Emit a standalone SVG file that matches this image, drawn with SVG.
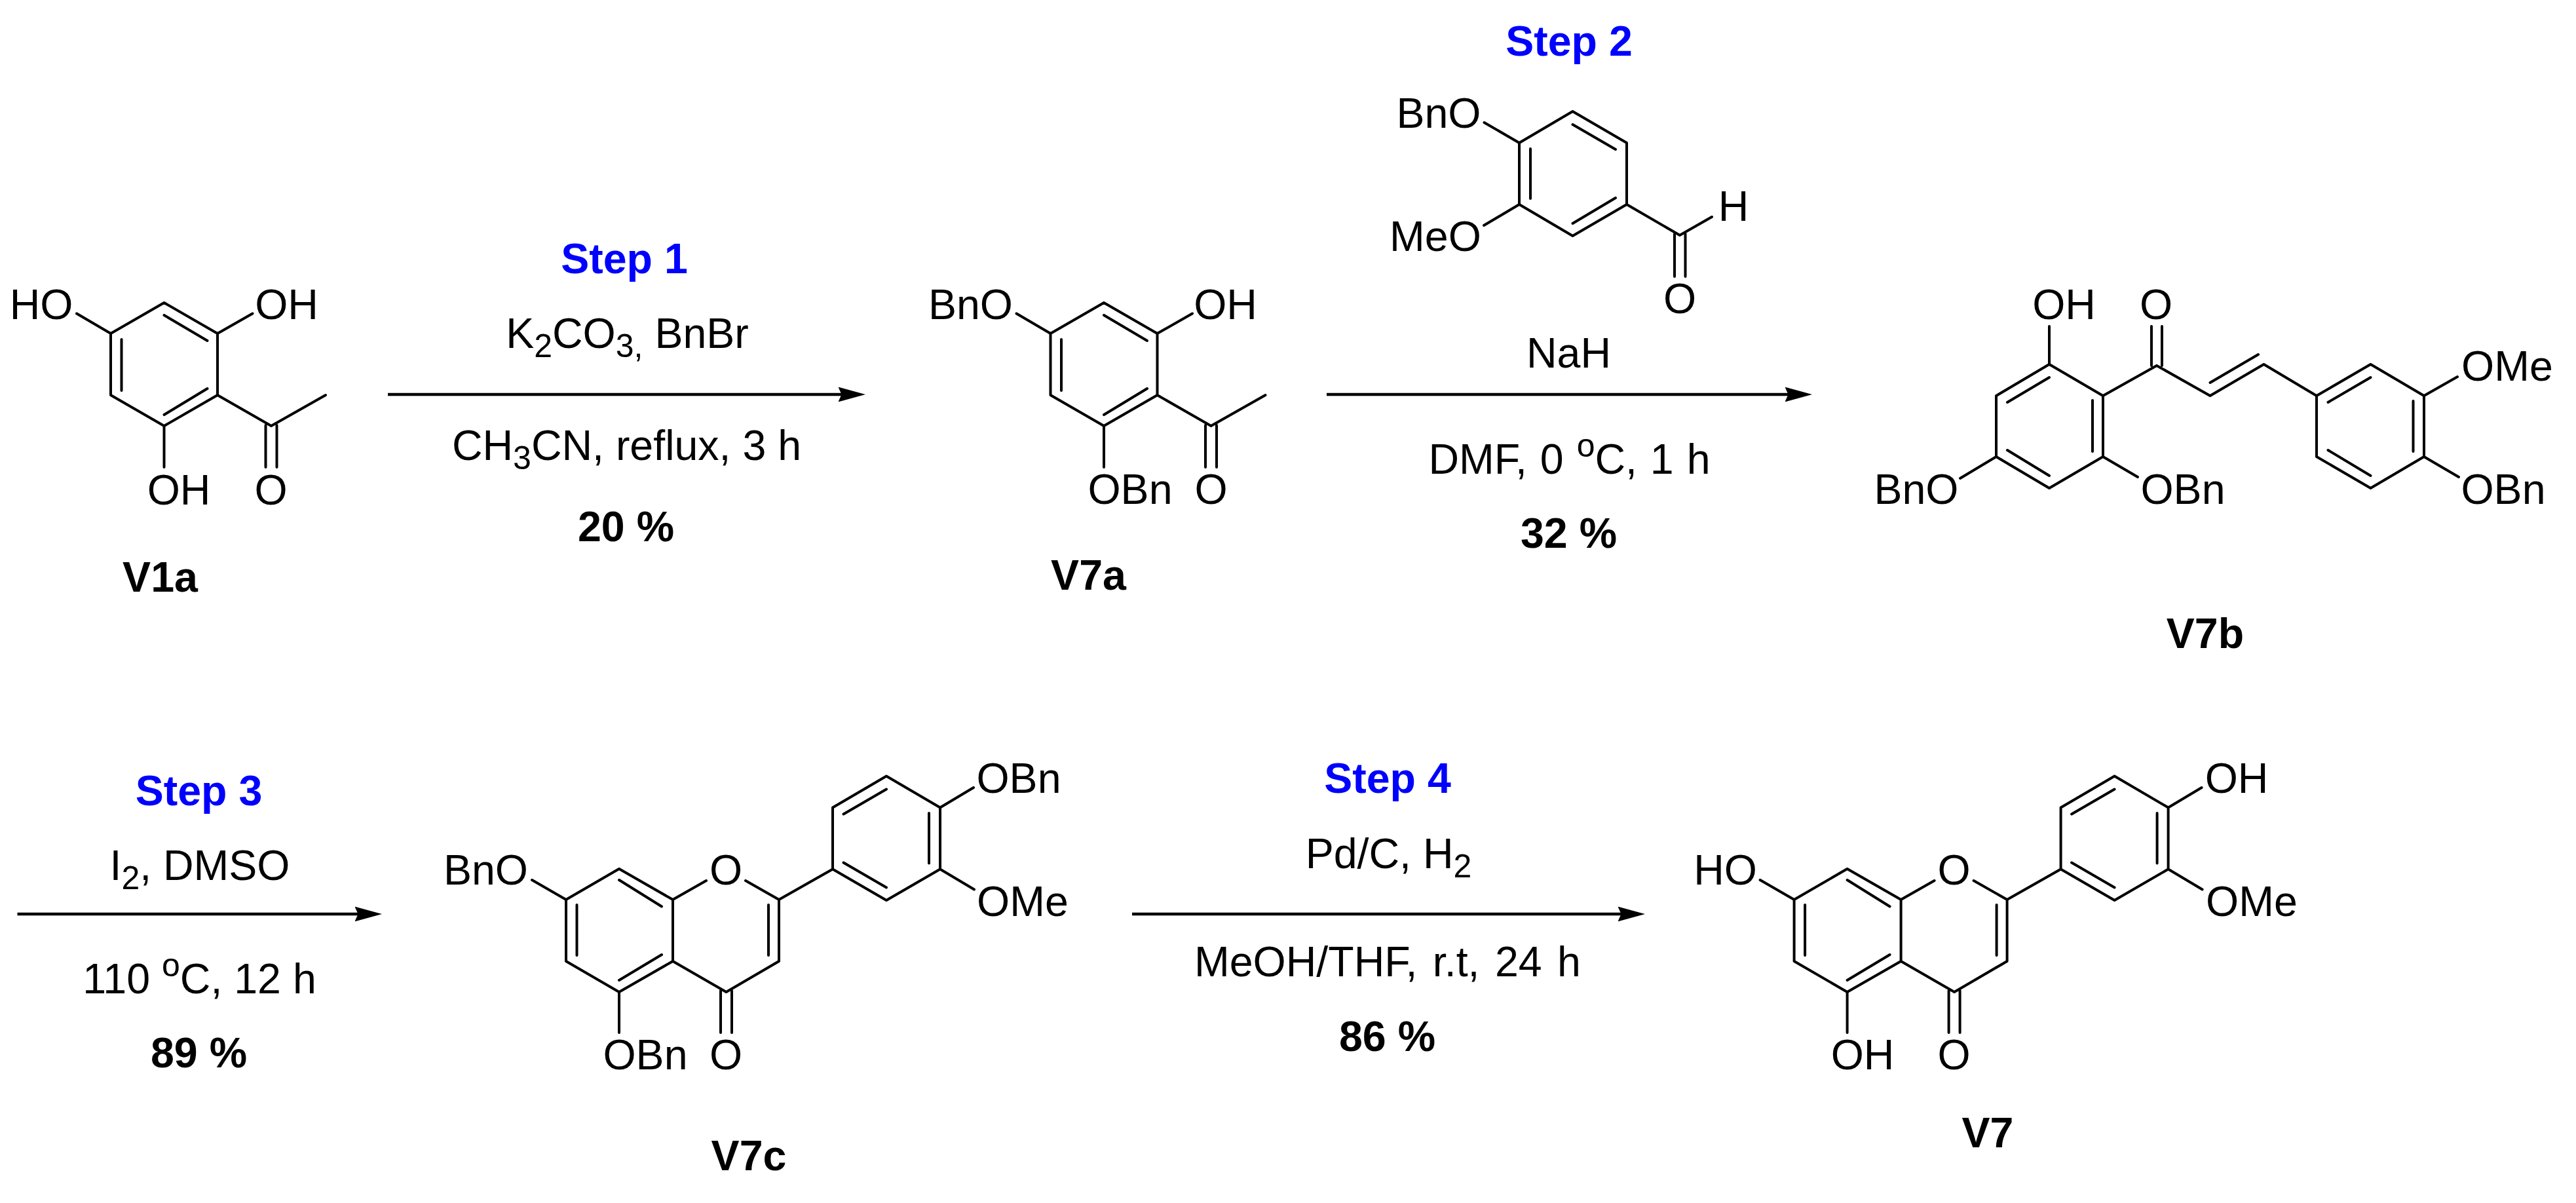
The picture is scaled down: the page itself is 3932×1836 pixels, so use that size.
<svg xmlns="http://www.w3.org/2000/svg" width="3932" height="1836" viewBox="0 0 3932 1836">
<style>
text{font-family:"Liberation Sans",Arial,sans-serif;font-size:64.5px;fill:#000;text-anchor:middle}
.b{font-weight:bold}
.step{font-weight:bold;fill:#0000ff}
.bond{fill:none;stroke:#000;stroke-width:4;stroke-linecap:round;stroke-linejoin:round}
.arrow{fill:none;stroke:#000;stroke-width:4.5;marker-end:url(#head)}
.s{font-size:50px}
</style>
<defs>
<marker id="head" markerUnits="userSpaceOnUse" markerWidth="44" markerHeight="26" refX="11.5" refY="13" orient="auto">
<path d="M41.5 13L0 1.5L5 13L0 24.5Z" fill="#000"/>
</marker>
<path id="acetophenone" class="bond" d="M250.5 462L332 509L332 603L250.5 650L169 603L169 509Z M185.5 518V596 M250.5 481L316.5 520 M316.5 593L250.5 633 M169 509L117 478.5 M332 509L385.5 478.5 M250.5 650V713 M332 603L414 650L497 603 M405.5 649V713 M422.5 649V713"/>
<path id="flavone" class="bond" d="M945 1326L1027 1373L1027 1467L945 1514L864 1467L864 1373Z M880.5 1381V1458 M945 1343L1010 1383.5 M1010 1457L945 1496 M1027 1373L1078 1344 M1138 1344L1189 1373L1189 1467L1108.5 1514L1027 1467 M1173 1381V1458 M945 1514V1576 M1100 1512V1576 M1117 1512V1576 M864 1373L812 1343 M1189 1373L1271 1326.5L1271 1232.5L1353 1184.5L1435 1232.5L1435 1326.5L1353 1374L1271 1326.5 M1287.5 1242.5L1353 1204.5 M1418 1241V1317.5 M1287.5 1316.5L1353 1354.5 M1435 1232.5L1486 1202 M1435 1326.5L1487 1357.5"/>
</defs>
<rect width="3932" height="1836" fill="#fff"/>
<g id="connectors">
<line class="arrow" x1="592" y1="602" x2="1291" y2="602"/>
<line class="arrow" x1="2025" y1="602" x2="2736" y2="602"/>
<line class="arrow" x1="26.5" y1="1395" x2="553" y2="1395"/>
<line class="arrow" x1="1728" y1="1395" x2="2481" y2="1395"/>
</g>
<g id="V1a">
<use href="#acetophenone"/>
<text x="63" y="486.5">HO</text>
<text x="437.5" y="486.5">OH</text>
<text x="273" y="769.5">OH</text>
<text x="413.5" y="769.5">O</text>
<text class="b" x="244.5" y="903">V1a</text>
</g>
<g id="step1">
<text class="step" x="953" y="416.5">Step 1</text>
<text x="957.5" y="531">K<tspan class="s" dy="14">2</tspan><tspan dy="-14">CO</tspan><tspan class="s" dy="14">3,</tspan><tspan dy="-14"> BnBr</tspan></text>
<text x="956.5" y="701.6">CH<tspan class="s" dy="14">3</tspan><tspan dy="-14">CN, reflux, 3 h</tspan></text>
<text class="b" x="955.5" y="826">20 %</text>
</g>
<g id="V7a">
<use href="#acetophenone" x="1434.5"/>
<text x="1481.5" y="487">BnO</text>
<text x="1870.5" y="487">OH</text>
<text x="1725" y="769">OBn</text>
<text x="1848.5" y="769">O</text>
<text class="b" x="1661.5" y="899.5">V7a</text>
</g>
<g id="step2">
<text class="step" x="2395" y="84.5">Step 2</text>
<text x="2394.5" y="561">NaH</text>
<text x="2395.5" y="722.7" word-spacing="2">DMF, 0 <tspan class="s" dy="-26">o</tspan><tspan dy="26">C, 1 h</tspan></text>
<text class="b" x="2394.5" y="836">32 %</text>
</g>
<g id="aldehyde">
<path class="bond" d="M2400.5 170L2483 218L2483 312L2400.5 360L2319 312L2319 218Z M2336 227V303 M2400.5 190L2466 228 M2466 302L2400.5 341 M2319 218L2265.5 187 M2319 312L2265 344 M2483 312L2564 359L2613 331 M2556 357V422 M2572.5 357V422"/>
<text x="2196" y="195">BnO</text>
<text x="2191" y="383">MeO</text>
<text x="2646" y="337">H</text>
<text x="2564" y="478">O</text>
</g>
<g id="V7b">
<path class="bond" d="M3128 556L3210 604L3210 697L3128 745L3047 697L3047 604Z M3064 614L3128 576 M3194 611V689 M3064 687L3128 726 M3128 556V498 M3210 604L3292 558L3373.5 604L3455.5 556L3536 604 M3284 558V498 M3300 558V498 M3373.5 584L3447 541 M3618.5 556L3700 604L3700 697L3618.5 745L3536 697L3536 604Z M3553.5 614L3618.5 576 M3683.5 612V689 M3553.5 687L3618.5 726 M3700 604L3751 575 M3700 697L3753 728 M3210 697L3263 728 M3047 697L2992 730"/>
<text x="3150.5" y="487">OH</text>
<text x="3291" y="487">O</text>
<text x="3827" y="581">OMe</text>
<text x="3821" y="768.6">OBn</text>
<text x="3332" y="768.6">OBn</text>
<text x="2925" y="768.6">BnO</text>
<text class="b" x="3366" y="989">V7b</text>
</g>
<g id="step3">
<text class="step" x="303.5" y="1228.5">Step 3</text>
<text x="305" y="1343">I<tspan class="s" dy="14">2</tspan><tspan dy="-14">, DMSO</tspan></text>
<text x="304.5" y="1515.7">110 <tspan class="s" dy="-26">o</tspan><tspan dy="26">C, 12 h</tspan></text>
<text class="b" x="303.5" y="1629">89 %</text>
</g>
<g id="V7c">
<use href="#flavone"/>
<text x="1108" y="1349.6">O</text>
<text x="1108" y="1632">O</text>
<text x="985" y="1632">OBn</text>
<text x="741.5" y="1349.6">BnO</text>
<text x="1555" y="1210">OBn</text>
<text x="1561" y="1398">OMe</text>
<text class="b" x="1143" y="1786">V7c</text>
</g>
<g id="step4">
<text class="step" x="2118" y="1210">Step 4</text>
<text x="2119.5" y="1324.6">Pd/C, H<tspan class="s" dy="14">2</tspan></text>
<text x="2118" y="1490" word-spacing="5.5">MeOH/THF, r.t, 24 h</text>
<text class="b" x="2117.5" y="1603.5">86 %</text>
</g>
<g id="V7">
<use href="#flavone" x="1874.6"/>
<text x="2982.6" y="1349.6">O</text>
<text x="2982.6" y="1632">O</text>
<text x="2633.5" y="1349.6">HO</text>
<text x="3414" y="1210">OH</text>
<text x="3437" y="1398">OMe</text>
<text x="2843" y="1632">OH</text>
<text class="b" x="3034" y="1750.5">V7</text>
</g>
</svg>
